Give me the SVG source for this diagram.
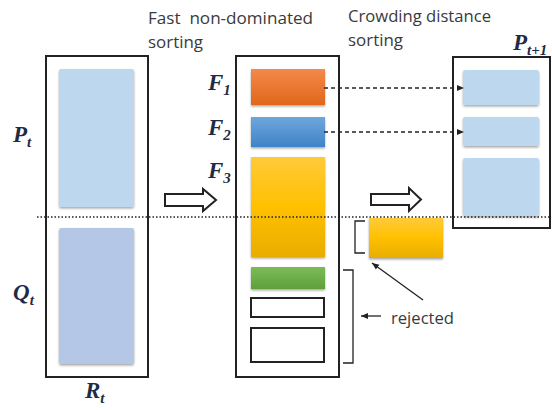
<svg xmlns="http://www.w3.org/2000/svg" width="552" height="410" viewBox="0 0 552 410">
<defs>
<linearGradient id="gOr" x1="0" y1="0" x2="0" y2="1"><stop offset="0" stop-color="#f4894a"/><stop offset="1" stop-color="#e0661a"/></linearGradient>
<linearGradient id="gBl" x1="0" y1="0" x2="0" y2="1"><stop offset="0" stop-color="#6ea6dc"/><stop offset="1" stop-color="#3f83c8"/></linearGradient>
<linearGradient id="gYe" x1="0" y1="0" x2="0" y2="1"><stop offset="0" stop-color="#ffca3a"/><stop offset="0.5" stop-color="#ffc000"/><stop offset="1" stop-color="#e8ad00"/></linearGradient>
<linearGradient id="gGr" x1="0" y1="0" x2="0" y2="1"><stop offset="0" stop-color="#7dbb58"/><stop offset="1" stop-color="#5fa03a"/></linearGradient>
<filter id="sh" x="-10%" y="-10%" width="120%" height="130%"><feDropShadow dx="0" dy="1.5" stdDeviation="1" flood-color="#000" flood-opacity="0.35"/></filter>
<marker id="ah" markerWidth="8" markerHeight="8" refX="7" refY="4" orient="auto" markerUnits="userSpaceOnUse"><path d="M0,1 L7,4 L0,7 z" fill="#222"/></marker>
</defs>
<style>
.box{fill:none;stroke:#222;stroke-width:2}
.lab{font-family:"Open Sans","Liberation Sans",sans-serif;font-size:16px;fill:#3a3a3a}
.math{font-family:"Liberation Serif",serif;font-style:italic;font-weight:bold;fill:#1f2a44;font-size:23px}
.sub{font-size:15px}
.ln{stroke:#222;stroke-width:1.3;fill:none}
.hollow{fill:#fff;stroke:#222;stroke-width:2;stroke-linejoin:miter}
</style>
<rect width="552" height="410" fill="#fff"/>

<g id="labels">
<text class="lab" x="148" y="24" textLength="165" lengthAdjust="spacingAndGlyphs" xml:space="preserve">Fast  non-dominated</text>
<text class="lab" x="148" y="48" textLength="55" lengthAdjust="spacingAndGlyphs">sorting</text>
<text class="lab" x="348" y="22" textLength="143" lengthAdjust="spacingAndGlyphs">Crowding distance</text>
<text class="lab" x="348" y="46" textLength="55" lengthAdjust="spacingAndGlyphs">sorting</text>
<text class="lab" x="391" y="324" textLength="63" lengthAdjust="spacingAndGlyphs">rejected</text>
</g>

<g id="Rt">
<rect class="box" x="46" y="56" width="102" height="321"/>
<rect x="59" y="69" width="75" height="138" rx="2" fill="#bdd7ee" filter="url(#sh)"/>
<rect x="59" y="228" width="75" height="136" rx="2" fill="#b4c7e7" filter="url(#sh)"/>
<text class="math" x="13" y="142">P<tspan class="sub" dy="5">t</tspan></text>
<text class="math" x="13" y="300">Q<tspan class="sub" dy="5">t</tspan></text>
<text class="math" x="85" y="398">R<tspan class="sub" dy="5">t</tspan></text>
</g>

<g id="fronts">
<rect class="box" x="236" y="56" width="103" height="321"/>
<rect x="251" y="69" width="74" height="36" fill="url(#gOr)" filter="url(#sh)"/>
<rect x="251" y="117" width="74" height="30" fill="url(#gBl)" filter="url(#sh)"/>
<rect x="251" y="157" width="74" height="100" fill="url(#gYe)" filter="url(#sh)"/>
<rect x="251" y="267" width="74" height="22" fill="url(#gGr)" filter="url(#sh)"/>
<rect x="251" y="298" width="73" height="19" fill="#fff" stroke="#222" stroke-width="2"/>
<rect x="251" y="328" width="73" height="34" fill="#fff" stroke="#222" stroke-width="2"/>
<text class="math" x="208" y="90">F<tspan class="sub" dy="5">1</tspan></text>
<text class="math" x="208" y="135">F<tspan class="sub" dy="5">2</tspan></text>
<text class="math" x="208" y="178">F<tspan class="sub" dy="5">3</tspan></text>
</g>

<g id="Pt1">
<rect class="box" x="453" y="57" width="97" height="171"/>
<rect x="463" y="70" width="76" height="35" rx="2" fill="#bdd7ee" filter="url(#sh)"/>
<rect x="463" y="117" width="76" height="29" rx="2" fill="#bdd7ee" filter="url(#sh)"/>
<rect x="463" y="158" width="76" height="58" rx="2" fill="#bdd7ee" filter="url(#sh)"/>
<text class="math" x="513" y="50">P<tspan class="sub" dy="5">t+1</tspan></text>
</g>

<g id="rejected-part">
<rect x="369" y="218" width="74" height="40" fill="url(#gYe)" filter="url(#sh)"/>
</g>

<g id="connectors">
<line x1="37" y1="217" x2="551" y2="217" stroke="#222" stroke-width="1.5" stroke-dasharray="1.5 2"/>
<line class="ln" x1="324" y1="88" x2="464" y2="88" stroke-dasharray="4 3" marker-end="url(#ah)"/>
<line class="ln" x1="324" y1="132" x2="464" y2="132" stroke-dasharray="4 3" marker-end="url(#ah)"/>
<path class="hollow" d="M165,194 H203 V189 L216,200 L203,211 V206 H165 Z"/>
<path class="hollow" d="M371,194 H409 V188 L421,199.5 L409,211 V205 H371 Z"/>
<path class="ln" stroke-width="2" d="M365,221 H355 V253 H365"/>
<path class="ln" stroke-width="2" d="M343,270 H353 V363 H343"/>
<line class="ln" x1="381" y1="316" x2="361" y2="316" marker-end="url(#ah)"/>
<line class="ln" x1="423" y1="300" x2="372" y2="263" marker-end="url(#ah)"/>
</g>
</svg>
